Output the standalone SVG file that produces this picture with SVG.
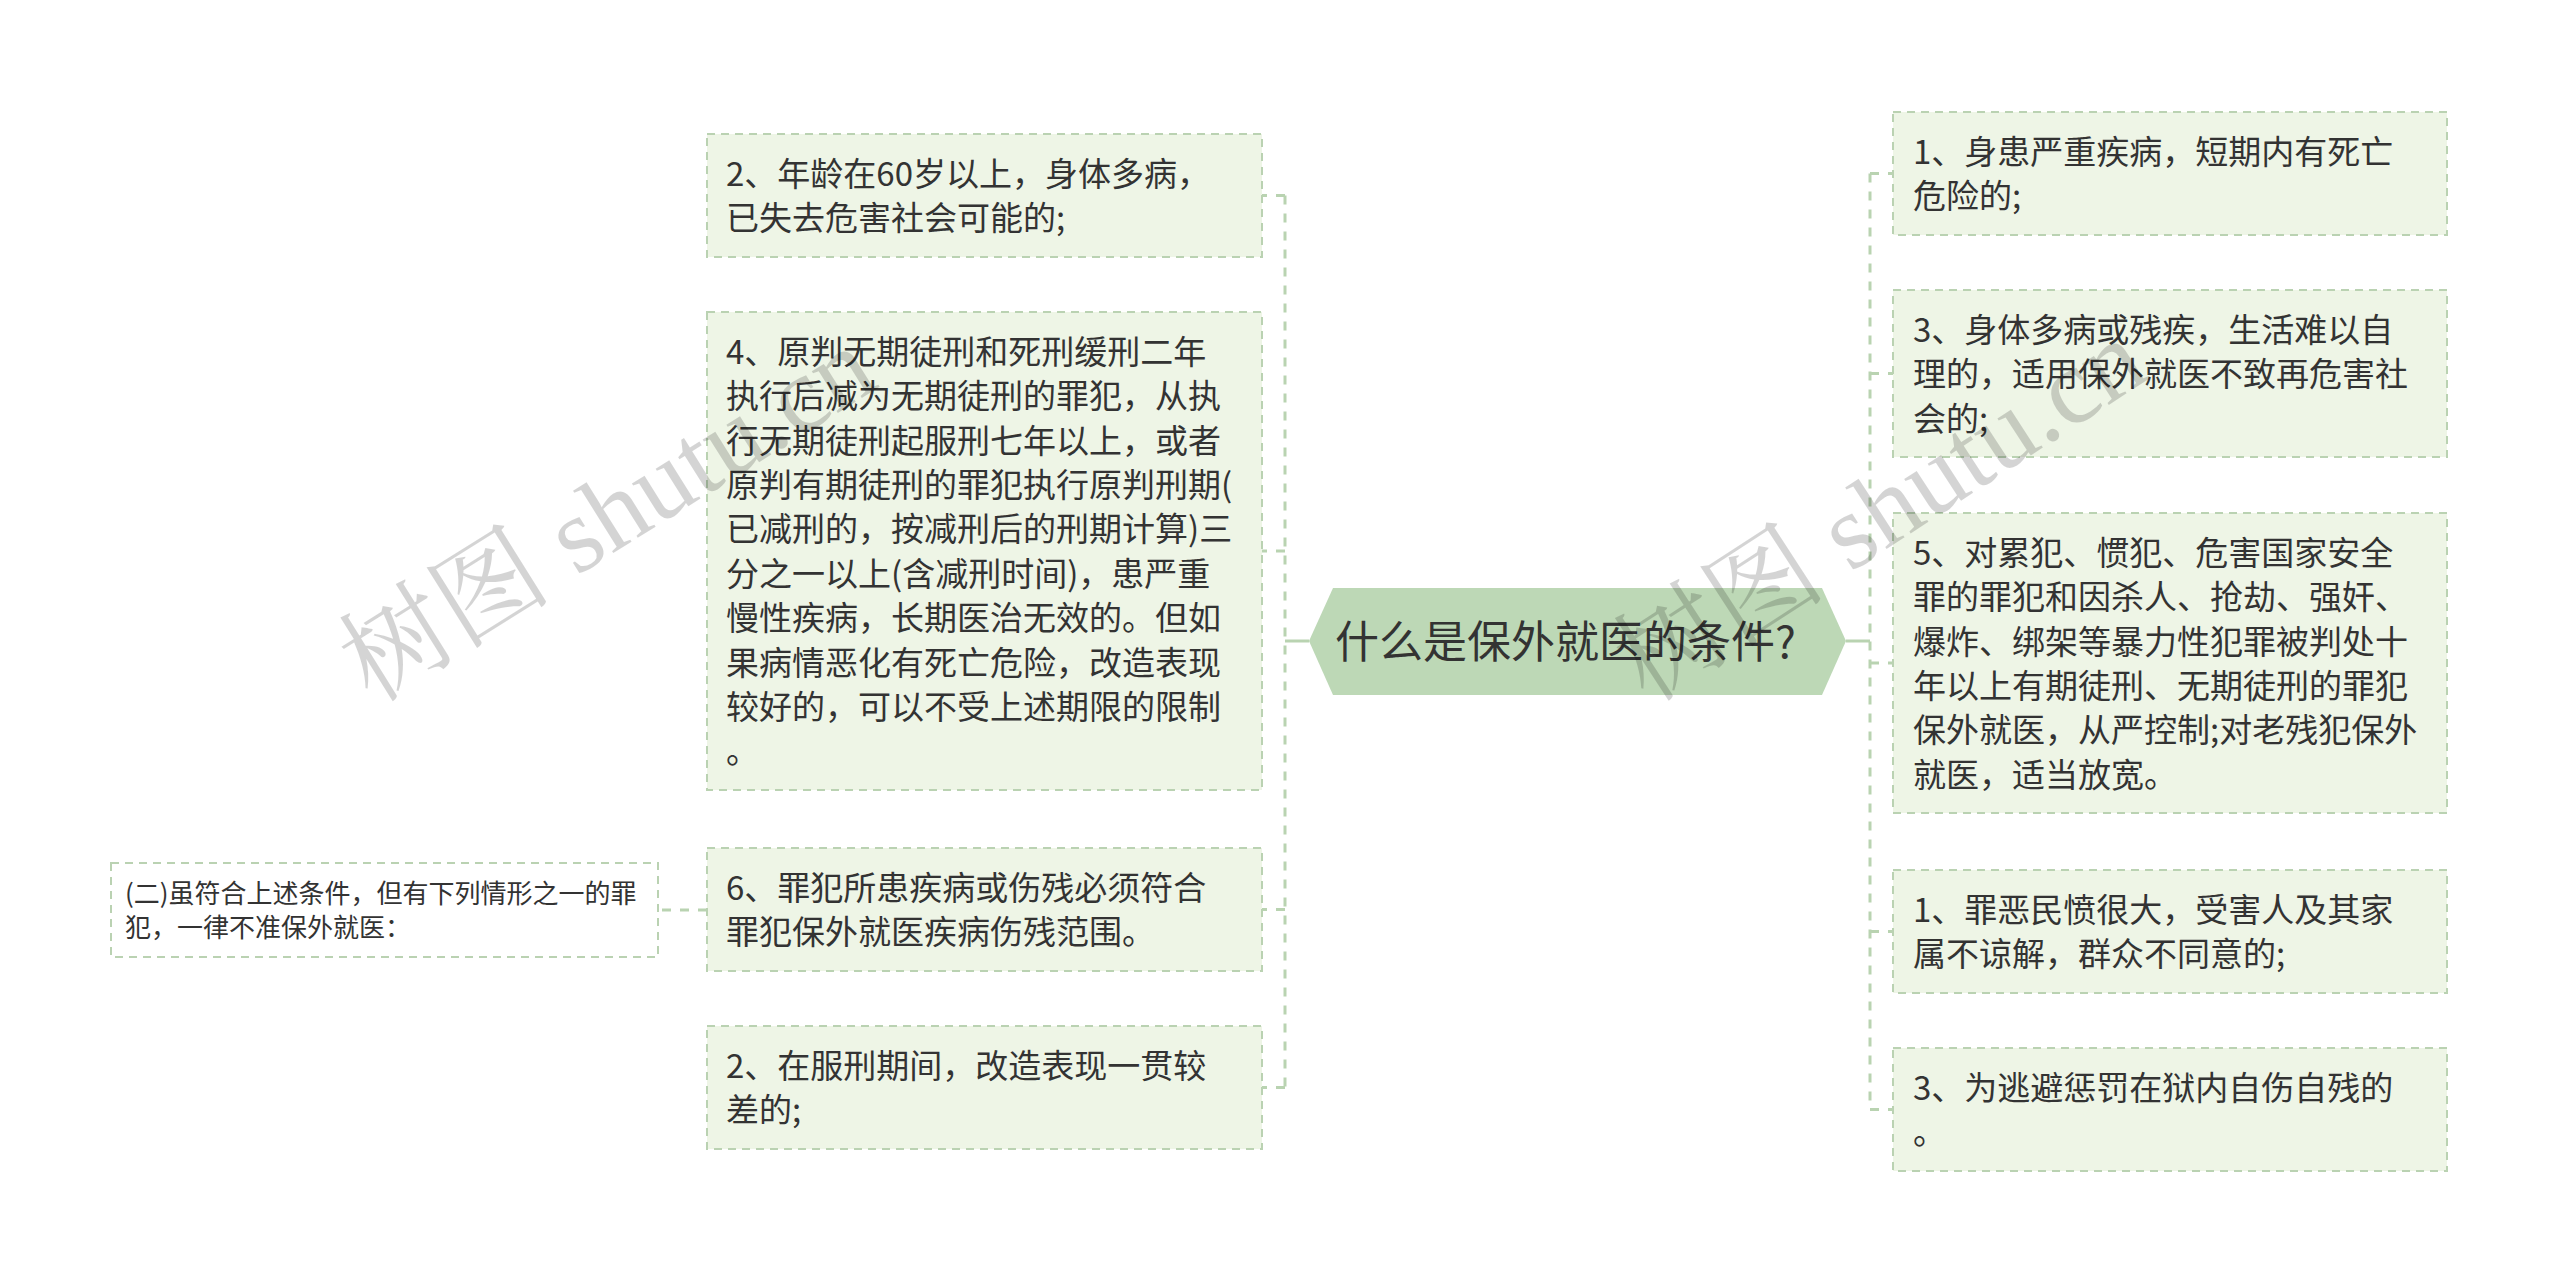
<svg xmlns="http://www.w3.org/2000/svg" width="2560" height="1284" viewBox="0 0 2560 1284">
<style>
.box{fill:#eef5e6;stroke:#bad2b2;stroke-width:2;stroke-dasharray:8 6}
.t{font-family:"Noto Sans CJK SC","Noto Sans",sans-serif;font-size:33px;fill:#333333}
.ts{font-family:"Noto Sans CJK SC","Noto Sans",sans-serif;font-size:26px;fill:#333333}
.dash{fill:none;stroke:#b9d3b1;stroke-width:3;stroke-dasharray:9 9}
.solid{fill:none;stroke:#b9d3b1;stroke-width:3}
.wm{font-family:"Liberation Serif","Noto Serif CJK SC","Noto Sans CJK SC",serif;font-size:107px;fill:#000000;fill-opacity:0.17}
</style>
<rect width="2560" height="1284" fill="#ffffff"/>
<g id="connectors">
<path class="solid" d="M1309 641H1285"/>
<path class="dash" d="M1285 195.5V1087.5"/>
<path class="dash" d="M1285 195.5H1262"/>
<path class="dash" d="M1285 551H1262"/>
<path class="dash" d="M1285 909.5H1262"/>
<path class="dash" d="M1285 1087.5H1262"/>
<path class="dash" d="M707 910H658"/>
<path class="solid" d="M1846 641H1870"/>
<path class="dash" d="M1870 173.5V1109.5"/>
<path class="dash" d="M1870 173.5H1893"/>
<path class="dash" d="M1870 373.5H1893"/>
<path class="dash" d="M1870 663H1893"/>
<path class="dash" d="M1870 931.5H1893"/>
<path class="dash" d="M1870 1109.5H1893"/>
</g>
<g id="center">
<polygon points="1309,641 1333,588 1822,588 1846,641 1822,695 1333,695" fill="#bdd8b6"/>
<text x="1335" y="657.7" font-family="'Noto Sans CJK SC','Noto Sans',sans-serif" font-size="44" fill="#333333">什么是保外就医的条件?</text>
</g>
<g id="l1">
<rect class="box" x="707" y="134" width="555" height="123"/>
<text class="t" x="726" y="185.7"><tspan x="726">2、年龄在60岁以上，身体多病，</tspan><tspan x="726" dy="44.4">已失去危害社会可能的;</tspan></text>
</g>
<g id="l4">
<rect class="box" x="707" y="312" width="555" height="478"/>
<text class="t" x="726" y="363.7"><tspan x="726">4、原判无期徒刑和死刑缓刑二年</tspan><tspan x="726" dy="44.4">执行后减为无期徒刑的罪犯，从执</tspan><tspan x="726" dy="44.4">行无期徒刑起服刑七年以上，或者</tspan><tspan x="726" dy="44.4">原判有期徒刑的罪犯执行原判刑期(</tspan><tspan x="726" dy="44.4">已减刑的，按减刑后的刑期计算)三</tspan><tspan x="726" dy="44.4">分之一以上(含减刑时间)，患严重</tspan><tspan x="726" dy="44.4">慢性疾病，长期医治无效的。但如</tspan><tspan x="726" dy="44.4">果病情恶化有死亡危险，改造表现</tspan><tspan x="726" dy="44.4">较好的，可以不受上述期限的限制</tspan><tspan x="726" dy="44.4">。</tspan></text>
</g>
<g id="l6">
<rect class="box" x="707" y="848" width="555" height="123"/>
<text class="t" x="726" y="899.7"><tspan x="726">6、罪犯所患疾病或伤残必须符合</tspan><tspan x="726" dy="44.4">罪犯保外就医疾病伤残范围。</tspan></text>
</g>
<g id="l2b">
<rect class="box" x="707" y="1026" width="555" height="123"/>
<text class="t" x="726" y="1077.7"><tspan x="726">2、在服刑期间，改造表现一贯较</tspan><tspan x="726" dy="44.4">差的;</tspan></text>
</g>
<g id="farleft">
<rect class="box" x="111" y="863" width="547" height="94" style="fill:#ffffff"/>
<text class="ts" x="125" y="903"><tspan x="125">(二)虽符合上述条件，但有下列情形之一的罪</tspan><tspan x="125" dy="33.6">犯，一律不准保外就医：</tspan></text>
</g>
<g id="r1">
<rect class="box" x="1893" y="112" width="554" height="123"/>
<text class="t" x="1913" y="163.7"><tspan x="1913">1、身患严重疾病，短期内有死亡</tspan><tspan x="1913" dy="44.4">危险的;</tspan></text>
</g>
<g id="r3">
<rect class="box" x="1893" y="290" width="554" height="167"/>
<text class="t" x="1913" y="341.7"><tspan x="1913">3、身体多病或残疾，生活难以自</tspan><tspan x="1913" dy="44.4">理的，适用保外就医不致再危害社</tspan><tspan x="1913" dy="44.4">会的;</tspan></text>
</g>
<g id="r5">
<rect class="box" x="1893" y="513" width="554" height="300"/>
<text class="t" x="1913" y="564.7"><tspan x="1913">5、对累犯、惯犯、危害国家安全</tspan><tspan x="1913" dy="44.4">罪的罪犯和因杀人、抢劫、强奸、</tspan><tspan x="1913" dy="44.4">爆炸、绑架等暴力性犯罪被判处十</tspan><tspan x="1913" dy="44.4">年以上有期徒刑、无期徒刑的罪犯</tspan><tspan x="1913" dy="44.4">保外就医，从严控制;对老残犯保外</tspan><tspan x="1913" dy="44.4">就医，适当放宽。</tspan></text>
</g>
<g id="r1b">
<rect class="box" x="1893" y="870" width="554" height="123"/>
<text class="t" x="1913" y="921.7"><tspan x="1913">1、罪恶民愤很大，受害人及其家</tspan><tspan x="1913" dy="44.4">属不谅解，群众不同意的;</tspan></text>
</g>
<g id="r3b">
<rect class="box" x="1893" y="1048" width="554" height="123"/>
<text class="t" x="1913" y="1099.7"><tspan x="1913">3、为逃避惩罚在狱内自伤自残的</tspan><tspan x="1913" dy="44.4">。</tspan></text>
</g>
<g id="watermarks">
<text class="wm" transform="translate(372,704) rotate(-32)">树图 shutu.cn</text>
<text class="wm" transform="translate(1648,704) rotate(-33)">树图 shutu.cn</text>
</g>
</svg>
